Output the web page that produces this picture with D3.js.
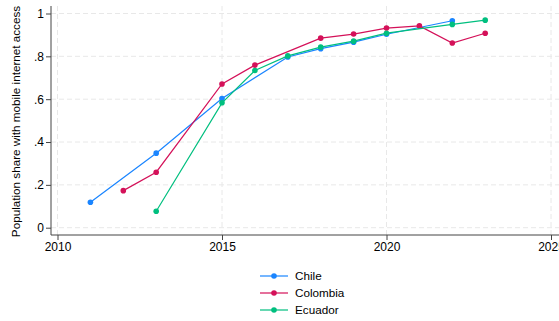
<!DOCTYPE html>
<html>
<head>
<meta charset="utf-8">
<script src="https://cdn.jsdelivr.net/npm/d3@7"></script>
<style>
  html, body { margin: 0; padding: 0; background: #fff; }
  svg { display: block; font-family: "Liberation Sans", Arial, sans-serif; }
</style>
</head>
<body>
<svg id="chart" width="559" height="321"></svg>
<script>
// Share of population with mobile internet access, by country and year
const chileYears = [2011, 2013, 2015, 2017, 2018, 2019, 2020, 2022];
const chileValues = [0.119, 0.348, 0.603, 0.797, 0.836, 0.866, 0.903, 0.966];

const colombiaYears = [2012, 2013, 2015, 2016, 2018, 2019, 2020, 2021, 2022, 2023];
const colombiaValues = [0.173, 0.259, 0.671, 0.759, 0.885, 0.904, 0.932, 0.942, 0.862, 0.908];

const ecuadorYears = [2013, 2015, 2016, 2017, 2018, 2019, 2020, 2022, 2023];
const ecuadorValues = [0.077, 0.583, 0.734, 0.802, 0.843, 0.871, 0.908, 0.949, 0.969];

const seriesNames = ["Chile", "Colombia", "Ecuador"];
const seriesColors = ["#1a85ff", "#d41159", "#00bf7f"];

const xTicks = [2010, 2015, 2020, 2025];
const yTicks = [0, 0.2, 0.4, 0.6, 0.8, 1];
const yTickLabels = ["0", ".2", ".4", ".6", ".8", "1"];
const yTitle = "Population share with mobile internet access";

const series = [
  { name: seriesNames[0], color: seriesColors[0], pts: chileYears.map((y, i) => [y, chileValues[i]]) },
  { name: seriesNames[1], color: seriesColors[1], pts: colombiaYears.map((y, i) => [y, colombiaValues[i]]) },
  { name: seriesNames[2], color: seriesColors[2], pts: ecuadorYears.map((y, i) => [y, ecuadorValues[i]]) }
];

const svg = d3.select("#chart");
const W = 559;

const plotLeft = 51, plotBottom = 235, plotTop = 6;
const x = d3.scaleLinear().domain([2010, 2025]).range([57.5, 551]);
const y = d3.scaleLinear().domain([0, 1]).range([227.7, 13.5]);

// grid
const grid = svg.append("g");
grid.selectAll("line.h").data(yTicks).enter().append("line")
  .attr("x1", plotLeft).attr("x2", W)
  .attr("y1", d => y(d)).attr("y2", d => y(d))
  .attr("stroke", "#e8e8e8").attr("stroke-width", 1).attr("stroke-dasharray", "5,3");
grid.selectAll("line.v").data(xTicks).enter().append("line")
  .attr("y1", plotTop).attr("y2", plotBottom)
  .attr("x1", d => x(d)).attr("x2", d => x(d))
  .attr("stroke", "#e8e8e8").attr("stroke-width", 1).attr("stroke-dasharray", "5,3");

// axes
const yAxis = d3.axisLeft(y).tickValues(yTicks).tickFormat((d, i) => yTickLabels[i]).tickSize(5).tickPadding(2);
const gy = svg.append("g").attr("transform", `translate(${plotLeft},0)`).call(yAxis);
gy.select(".domain").remove();
gy.append("line").attr("x1", 0).attr("x2", 0).attr("y1", plotTop).attr("y2", plotBottom).attr("stroke", "#444");

const xAxis = d3.axisBottom(x).tickValues(xTicks).tickFormat(d3.format("d")).tickSize(5).tickPadding(2);
const gx = svg.append("g").attr("transform", `translate(0,${plotBottom})`).call(xAxis);
gx.select(".domain").remove();
gx.append("line").attr("x1", plotLeft).attr("x2", W).attr("y1", 0).attr("y2", 0).attr("stroke", "#444");

[gx, gy].forEach(g => {
  g.selectAll(".tick line").attr("stroke", "#444");
  g.selectAll(".tick text").attr("fill", "#000").attr("font-size", 12)
    .attr("font-family", "'Liberation Sans', Arial, sans-serif");
});

svg.append("text")
  .attr("transform", `translate(19.5,${(plotTop + plotBottom) / 2 + 1}) rotate(-90)`)
  .attr("text-anchor", "middle")
  .attr("font-size", 11.7)
  .attr("fill", "#000")
  .text(yTitle);

// series
const line = d3.line().x(d => x(d[0])).y(d => y(d[1]));
series.forEach(s => {
  const g = svg.append("g");
  g.append("path").attr("d", line(s.pts)).attr("fill", "none")
    .attr("stroke", s.color).attr("stroke-width", 1.2);
  g.selectAll("circle").data(s.pts).enter().append("circle")
    .attr("cx", d => x(d[0])).attr("cy", d => y(d[1])).attr("r", 2.8)
    .attr("fill", s.color);
});

// legend
const legend = svg.append("g");
series.forEach((s, i) => {
  const ly = 276 + i * 17;
  legend.append("line").attr("x1", 260).attr("x2", 288).attr("y1", ly).attr("y2", ly)
    .attr("stroke", s.color).attr("stroke-width", 1.2);
  legend.append("circle").attr("cx", 274).attr("cy", ly).attr("r", 2.8).attr("fill", s.color);
  legend.append("text").attr("x", 295).attr("y", ly + 4.2).attr("font-size", 11.7)
    .attr("fill", "#000").text(s.name);
});
</script>
</body>
</html>
